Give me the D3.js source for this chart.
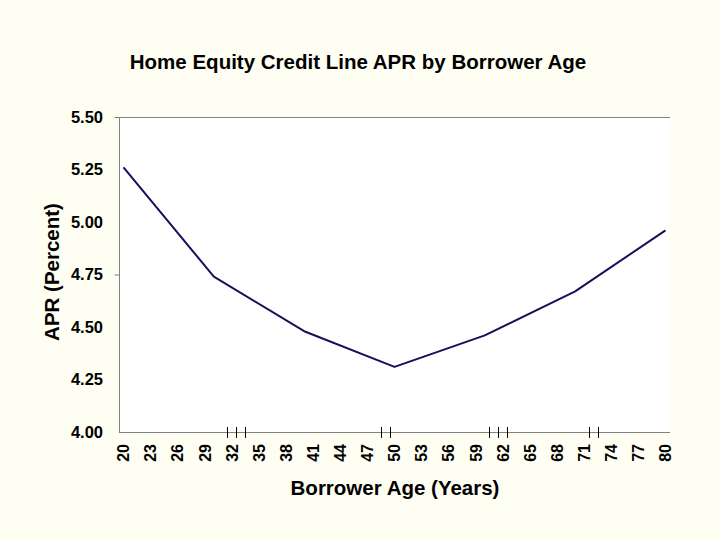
<!DOCTYPE html>
<html>
<head>
<meta charset="utf-8">
<script src="https://cdn.jsdelivr.net/npm/d3@7"></script>
<style>
  html, body { margin: 0; padding: 0; background: #fffef2; }
  svg { display: block; font-family: "Liberation Sans", Arial, sans-serif; }
</style>
</head>
<body>
<script>
(function () {

  // Ages on the category axis (one category per year)
  let ages = d3.range(20, 81);
  let ageLabels = d3.range(20, 81, 3);

  // APR values at the bend points
  let pointAges = [20, 30, 40, 50, 60, 70, 80];
  let aprValues = [5.26, 4.74, 4.48, 4.31, 4.46, 4.67, 4.96];

  let yTicks = [4.00, 4.25, 4.50, 4.75, 5.00, 5.25, 5.50];
  let yTickMarks = [4.75, 5.50];
  let xTickMarks = [32, 33, 34, 49, 50, 61, 62, 63, 72, 73];

  let width = 720, height = 540;
  let plot = { left: 119, right: 670, top: 117, bottom: 432 };

  let svg = d3.select('body').append('svg')
      .attr('width', width)
      .attr('height', height);

  svg.append('rect')
    .attr('width', width).attr('height', height)
    .attr('fill', '#fffef2');

  let x = d3.scaleBand().domain(ages).range([plot.left, plot.right]);
  let y = d3.scaleLinear().domain([4, 5.5]).range([plot.bottom, plot.top]);

  // Plot area
  svg.append('rect')
    .attr('x', plot.left).attr('y', plot.top)
    .attr('width', plot.right - plot.left)
    .attr('height', plot.bottom - plot.top)
    .attr('fill', '#ffffff');

  // top border
  svg.append('line')
    .attr('x1', plot.left).attr('x2', plot.right)
    .attr('y1', y(5.5) + 0.5).attr('y2', y(5.5) + 0.5)
    .attr('stroke', '#808080');

  // Y axis
  let yAxis = d3.axisLeft(y).tickValues(yTickMarks).tickSize(5).tickFormat('');
  let gy = svg.append('g')
    .attr('transform', 'translate(' + (plot.left + 0.5) + ',0)')
    .call(yAxis);
  gy.select('.domain').attr('stroke', '#808080').attr('d', 'M0,' + plot.top + 'V' + plot.bottom);
  gy.selectAll('.tick line').attr('stroke', '#808080');

  svg.selectAll('text.ylab').data(yTicks).enter().append('text')
    .attr('class', 'ylab')
    .attr('x', 103)
    .attr('y', d => y(d))
    .attr('dy', '0.36em')
    .attr('text-anchor', 'end')
    .attr('font-size', 16.5)
    .attr('font-weight', 'bold')
    .text(d => d3.format('.2f')(d));

  // X axis
  svg.append('line')
    .attr('x1', plot.left).attr('x2', plot.right)
    .attr('y1', plot.bottom + 0.5).attr('y2', plot.bottom + 0.5)
    .attr('stroke', '#808080');

  svg.selectAll('line.xmark').data(xTickMarks).enter().append('line')
    .attr('class', 'xmark')
    .attr('x1', d => Math.round(x(d)) + 0.5)
    .attr('x2', d => Math.round(x(d)) + 0.5)
    .attr('y1', plot.bottom - 5)
    .attr('y2', plot.bottom + 6)
    .attr('stroke', '#000');

  svg.selectAll('text.xlab').data(ageLabels).enter().append('text')
    .attr('class', 'xlab')
    .attr('transform', d => 'translate(' + (x(d) + x.bandwidth() / 2) + ',' + 444 + ') rotate(-90)')
    .attr('dy', '0.36em')
    .attr('text-anchor', 'end')
    .attr('font-size', 16)
    .attr('font-weight', 'bold')
    .text(d => d);

  // Line
  let line = d3.line()
    .x((d, i) => x(pointAges[i]) + x.bandwidth() / 2)
    .y(d => y(d));

  svg.append('path')
    .datum(aprValues)
    .attr('d', line)
    .attr('fill', 'none')
    .attr('stroke', '#14105a')
    .attr('stroke-width', 2)
    .attr('stroke-linejoin', 'round');

  // Titles
  svg.append('text')
    .attr('x', 358).attr('y', 69)
    .attr('text-anchor', 'middle')
    .attr('font-size', 20.5)
    .attr('font-weight', 'bold')
    .text('Home Equity Credit Line APR by Borrower Age');

  svg.append('text')
    .attr('x', 395).attr('y', 495)
    .attr('text-anchor', 'middle')
    .attr('font-size', 20.5)
    .attr('font-weight', 'bold')
    .text('Borrower Age (Years)');

  svg.append('text')
    .attr('transform', 'translate(59,272) rotate(-90)')
    .attr('text-anchor', 'middle')
    .attr('font-size', 20.5)
    .attr('font-weight', 'bold')
    .text('APR (Percent)');

})();
</script>
</body>
</html>
